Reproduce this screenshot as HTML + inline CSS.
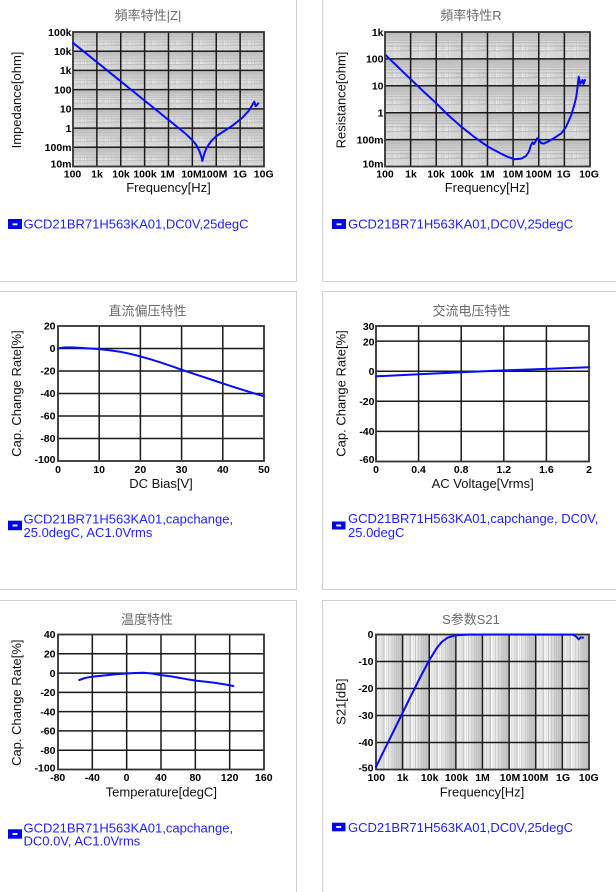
<!DOCTYPE html>
<html><head><meta charset="utf-8"><style>
html,body{margin:0;padding:0;background:#fff;}
body{width:616px;height:892px;overflow:hidden;}
svg{display:block;}
.t{font-family:"Liberation Sans","Noto Sans CJK SC",sans-serif;font-size:13px;fill:#6a6a6a;text-anchor:middle;}
.k{font-family:"Liberation Sans",Arial,sans-serif;font-size:10.5px;font-weight:bold;fill:#000;}
.kx{text-anchor:middle;}
.ky{text-anchor:end;}
.a{font-family:"Liberation Sans",Arial,sans-serif;font-size:13px;fill:#111;text-anchor:middle;}
.lg{font-family:"Liberation Sans",Arial,sans-serif;font-size:13px;fill:#1f1fff;}
.mj{stroke:#1a1a1a;stroke-width:1.5;fill:none;}
.fr{stroke:#333;stroke-width:1.8;fill:none;}
.cv{stroke:#0a0aff;stroke-width:2;fill:none;stroke-linejoin:round;stroke-linecap:round;}
.pb{stroke:#cfcfcf;stroke-width:1;fill:none;}
</style></head><body>
<svg width="616" height="892" viewBox="0 0 616 892" xmlns="http://www.w3.org/2000/svg">
<defs>
<g id="vd">
<g fill="#d6d6d6">
<rect x="0.0592" y="0" width="0.04" height="1000"/><rect x="0.1261" y="0" width="0.04" height="1000"/><rect x="0.1841" y="0" width="0.04" height="1000"/><rect x="0.2353" y="0" width="0.04" height="1000"/><rect x="0.3779" y="0" width="0.04" height="1000"/><rect x="0.5241" y="0" width="0.04" height="1000"/><rect x="0.6332" y="0" width="0.04" height="1000"/><rect x="0.7204" y="0" width="0.04" height="1000"/><rect x="0.7929" y="0" width="0.04" height="1000"/><rect x="0.8551" y="0" width="0.04" height="1000"/><rect x="0.9094" y="0" width="0.04" height="1000"/><rect x="0.9577" y="0" width="0.04" height="1000"/>
</g>
<g fill="#bcbcbc">
<rect x="0.2810" y="0" width="0.04" height="1000"/><rect x="0.4571" y="0" width="0.04" height="1000"/><rect x="0.5821" y="0" width="0.04" height="1000"/><rect x="0.6790" y="0" width="0.04" height="1000"/><rect x="0.7582" y="0" width="0.04" height="1000"/><rect x="0.8251" y="0" width="0.04" height="1000"/><rect x="0.8831" y="0" width="0.04" height="1000"/><rect x="0.9342" y="0" width="0.04" height="1000"/>
</g>
</g>
<g id="hd">
<g fill="#d6d6d6">
<rect x="0" y="0.8958" width="1000" height="0.05"/><rect x="0" y="0.8289" width="1000" height="0.05"/><rect x="0" y="0.7709" width="1000" height="0.05"/><rect x="0" y="0.7197" width="1000" height="0.05"/><rect x="0" y="0.5771" width="1000" height="0.05"/><rect x="0" y="0.4309" width="1000" height="0.05"/><rect x="0" y="0.3218" width="1000" height="0.05"/><rect x="0" y="0.2346" width="1000" height="0.05"/><rect x="0" y="0.1621" width="1000" height="0.05"/><rect x="0" y="0.0999" width="1000" height="0.05"/><rect x="0" y="0.0456" width="1000" height="0.05"/><rect x="0" y="0" width="1000" height="0.0473"/>
</g>
<g fill="#bcbcbc">
<rect x="0" y="0.6740" width="1000" height="0.05"/><rect x="0" y="0.4979" width="1000" height="0.05"/><rect x="0" y="0.3729" width="1000" height="0.05"/><rect x="0" y="0.2760" width="1000" height="0.05"/><rect x="0" y="0.1968" width="1000" height="0.05"/><rect x="0" y="0.1299" width="1000" height="0.05"/><rect x="0" y="0.0719" width="1000" height="0.05"/><rect x="0" y="0.0208" width="1000" height="0.05"/>
</g>
</g>
<pattern id="v1" patternUnits="userSpaceOnUse" width="1" height="1000" patternTransform="translate(73 0) scale(23.875 1)"><use href="#vd"/></pattern>
<pattern id="h1" patternUnits="userSpaceOnUse" width="1000" height="1" patternTransform="translate(0 32) scale(1 19.214)"><use href="#hd"/></pattern>
<pattern id="v2" patternUnits="userSpaceOnUse" width="1" height="1000" patternTransform="translate(385 0) scale(25.625 1)"><use href="#vd"/></pattern>
<pattern id="h2" patternUnits="userSpaceOnUse" width="1000" height="1" patternTransform="translate(0 32) scale(1 26.9)"><use href="#hd"/></pattern>
<pattern id="v6" patternUnits="userSpaceOnUse" width="1" height="1000" patternTransform="translate(376 0) scale(26.625 1)"><use href="#vd"/></pattern>
</defs>

<!-- panel borders -->
<rect class="pb" x="-5.5" y="-10.5" width="302" height="292"/>
<rect class="pb" x="322.5" y="-10.5" width="310" height="292"/>
<rect class="pb" x="-5.5" y="291.5" width="302" height="298"/>
<rect class="pb" x="322.5" y="291.5" width="310" height="298"/>
<rect class="pb" x="-5.5" y="600.5" width="302" height="310"/>
<rect class="pb" x="322.5" y="600.5" width="310" height="310"/>

<!-- ===== Chart 1 |Z| ===== -->
<text class="t" x="148" y="20">頻率特性|Z|</text>
<rect x="73" y="32" width="191" height="134.5" fill="#fff"/>
<rect x="73" y="32" width="191" height="134.5" fill="url(#v1)"/>
<rect x="73" y="32" width="191" height="134.5" fill="url(#h1)"/>
<g class="mj">
<path d="M96.875 32V166.5M120.75 32V166.5M144.625 32V166.5M168.5 32V166.5M192.375 32V166.5M216.25 32V166.5M240.125 32V166.5"/>
<path d="M73 51.21H264M73 70.43H264M73 89.64H264M73 108.86H264M73 128.07H264M73 147.29H264"/>
</g>
<rect class="fr" x="73" y="32" width="191" height="134.5"/>
<polyline class="cv" points="73,42.8 185,133.2 192.4,140.1 196.6,145.4 199.6,151.6 201.3,156.5 202.3,160.9 203.3,157.5 204.4,153.3 206.7,147.6 210.9,141.5 216.3,136.1 225,130.5 233.3,125 242,118 249,110.5 254.3,101.7 255.7,106.3 258.3,103.3"/>
<g class="k kx">
<text x="72.5" y="177.7">100</text><text x="97" y="177.7">1k</text><text x="121" y="177.7">10k</text><text x="145" y="177.7">100k</text><text x="167.5" y="177.7">1M</text><text x="191.5" y="177.7">10M</text><text x="214.2" y="177.7">100M</text><text x="240" y="177.7">1G</text><text x="263.7" y="177.7">10G</text>
</g>
<g class="k ky">
<text x="71.5" y="35.9">100k</text><text x="71.5" y="54.9">10k</text><text x="71.5" y="74.1">1k</text><text x="71.5" y="93.3">100</text><text x="71.5" y="112.6">10</text><text x="71.5" y="131.8">1</text><text x="71.5" y="151">100m</text><text x="71.5" y="167.7">10m</text>
</g>
<text class="a" x="168.5" y="192">Frequency[Hz]</text>
<text class="a" transform="translate(21 100) rotate(-90)">Impedance[ohm]</text>
<rect x="8" y="219" width="14" height="10" fill="#0000ee"/><rect x="12.5" y="223.3" width="5" height="2" fill="#e8e8ff"/>
<text class="lg" x="23.5" y="228.7">GCD21BR71H563KA01,DC0V,25degC</text>

<!-- ===== Chart 2 R ===== -->
<text class="t" x="471" y="20">頻率特性R</text>
<rect x="385" y="32" width="205" height="134.5" fill="#fff"/>
<rect x="385" y="32" width="205" height="134.5" fill="url(#v2)"/>
<rect x="385" y="32" width="205" height="134.5" fill="url(#h2)"/>
<g class="mj">
<path d="M410.625 32V166.5M436.25 32V166.5M461.875 32V166.5M487.5 32V166.5M513.125 32V166.5M538.75 32V166.5M564.375 32V166.5"/>
<path d="M385 58.9H590M385 85.8H590M385 112.7H590M385 139.6H590"/>
</g>
<rect class="fr" x="385" y="32" width="205" height="134.5"/>
<polyline class="cv" points="385.5,55 397,66 409.7,78.3 423,91 436.3,103.3 448,115 461.3,126.7 475,137.5 488,146.7 501.3,153.8 508,157 514.7,159.3 521.3,158.6 526,156 529,151.5 531,145 532.5,142.5 534,144 535.5,141.5 537.3,138.3 539,140 541.3,143.3 544,143.5 548,141.7 555,137.5 561.3,133.3 566,127 571.3,115 574,106 576.3,96.7 577.8,85 578.7,76.7 580.3,84 581.5,82 582.5,80 583.5,84 585,80"/>
<g class="k kx">
<text x="385" y="177.7">100</text><text x="411" y="177.7">1k</text><text x="436" y="177.7">10k</text><text x="462" y="177.7">100k</text><text x="487.3" y="177.7">1M</text><text x="513" y="177.7">10M</text><text x="538.7" y="177.7">100M</text><text x="563.8" y="177.7">1G</text><text x="589" y="177.7">10G</text>
</g>
<g class="k ky">
<text x="383.5" y="35.9">1k</text><text x="383.5" y="62.6">100</text><text x="383.5" y="89.5">10</text><text x="383.5" y="116.4">1</text><text x="383.5" y="143.3">100m</text><text x="383.5" y="167.7">10m</text>
</g>
<text class="a" x="487" y="192">Frequency[Hz]</text>
<text class="a" transform="translate(345.3 100) rotate(-90)">Resistance[ohm]</text>
<rect x="332" y="219" width="14" height="10" fill="#0000ee"/><rect x="336.5" y="223.3" width="5" height="2" fill="#e8e8ff"/>
<text class="lg" x="348" y="228.7">GCD21BR71H563KA01,DC0V,25degC</text>

<!-- ===== Chart 3 DC Bias ===== -->
<text class="t" x="147.5" y="315.5">直流偏压特性</text>
<rect x="58" y="326" width="206" height="135" fill="#fff"/>
<g class="mj">
<path d="M99.2 326V461M140.4 326V461M181.6 326V461M222.8 326V461"/>
<path d="M58 348.5H264M58 371H264M58 393.5H264M58 416H264M58 438.5H264"/>
</g>
<rect class="fr" x="58" y="326" width="206" height="135"/>
<polyline class="cv" points="58,348.5 61,347.9 64.2,347.5 70.4,347.4 78.6,347.8 88,348.4 99.2,349.1 109.5,350.2 119.8,351.7 130,353.8 140.4,356.4 151,359.4 161,362.6 171.3,366.1 181.6,369.7 191.9,373.2 202.2,376.6 212.5,380 222.8,383.4 233.1,386.8 243.4,390.1 253.7,393.2 264,396.3"/>
<g class="k kx">
<text x="58" y="473">0</text><text x="99.2" y="473">10</text><text x="140.4" y="473">20</text><text x="181.6" y="473">30</text><text x="222.8" y="473">40</text><text x="264" y="473">50</text>
</g>
<g class="k ky">
<text x="55.5" y="329.7">20</text><text x="55.5" y="352.2">0</text><text x="55.5" y="374.7">-20</text><text x="55.5" y="397.2">-40</text><text x="55.5" y="419.7">-60</text><text x="55.5" y="442.2">-80</text><text x="55.5" y="463">-100</text>
</g>
<text class="a" x="161" y="488">DC Bias[V]</text>
<text class="a" transform="translate(21 393.5) rotate(-90)">Cap. Change Rate[%]</text>
<rect x="8" y="520.7" width="14" height="9.5" fill="#0000ee"/><rect x="12.5" y="524.5" width="5" height="2" fill="#e8e8ff"/>
<text class="lg" x="23.5" y="523.4">GCD21BR71H563KA01,capchange,</text>
<text class="lg" x="23.5" y="537">25.0degC, AC1.0Vrms</text>

<!-- ===== Chart 4 AC Voltage ===== -->
<text class="t" x="471.5" y="315.5">交流电压特性</text>
<rect x="376" y="326" width="213" height="135.5" fill="#fff"/>
<g class="mj">
<path d="M418.6 326V461.5M461.2 326V461.5M503.8 326V461.5M546.4 326V461.5"/>
<path d="M376 341.1H589M376 371.2H589M376 401.3H589M376 431.4H589"/>
</g>
<rect class="fr" x="376" y="326" width="213" height="135.5"/>
<polyline class="cv" points="376,376.3 418.7,374.3 461.3,372.2 504,370.4 546.7,368.9 589,367.3"/>
<g class="k kx">
<text x="376" y="473">0</text><text x="418.6" y="473">0.4</text><text x="461.2" y="473">0.8</text><text x="503.8" y="473">1.2</text><text x="546.4" y="473">1.6</text><text x="589" y="473">2</text>
</g>
<g class="k ky">
<text x="374.5" y="330">30</text><text x="374.5" y="345.5">20</text><text x="374.5" y="374.9">0</text><text x="374.5" y="405">-20</text><text x="374.5" y="435.1">-40</text><text x="374.5" y="463">-60</text>
</g>
<text class="a" x="482.7" y="488">AC Voltage[Vrms]</text>
<text class="a" transform="translate(345.3 393.5) rotate(-90)">Cap. Change Rate[%]</text>
<rect x="332" y="521.5" width="13.5" height="8" fill="#0000ee"/><rect x="336.2" y="524.5" width="5" height="2" fill="#e8e8ff"/>
<text class="lg" x="348" y="523">GCD21BR71H563KA01,capchange, DC0V,</text>
<text class="lg" x="348" y="537">25.0degC</text>

<!-- ===== Chart 5 Temperature ===== -->
<text class="t" x="147" y="624">温度特性</text>
<rect x="58" y="634.5" width="206" height="135" fill="#fff"/>
<g class="mj">
<path d="M92.33 634.5V769.5M126.67 634.5V769.5M161 634.5V769.5M195.33 634.5V769.5M229.67 634.5V769.5"/>
<path d="M58 653.79H264M58 673.07H264M58 692.36H264M58 711.64H264M58 730.93H264M58 750.21H264"/>
</g>
<rect class="fr" x="58" y="634.5" width="206" height="135"/>
<polyline class="cv" points="79.3,680 85,678 91.7,676.7 105.2,675.4 116,674.3 126.7,673.5 135,673 143.3,672.7 152,673.5 160,675 170,676.2 178.1,677.6 187,679.2 196.7,680.7 205,681.6 213.5,682.6 224,684.2 233.3,686"/>
<g class="k kx">
<text x="57.7" y="781">-80</text><text x="92.3" y="781">-40</text><text x="126.5" y="781">0</text><text x="161" y="781">40</text><text x="195.3" y="781">80</text><text x="229.7" y="781">120</text><text x="263.8" y="781">160</text>
</g>
<g class="k ky">
<text x="55.5" y="638.2">40</text><text x="55.5" y="657.5">20</text><text x="55.5" y="676.8">0</text><text x="55.5" y="696.1">-20</text><text x="55.5" y="715.3">-40</text><text x="55.5" y="734.6">-60</text><text x="55.5" y="753.9">-80</text><text x="55.5" y="771.4">-100</text>
</g>
<text class="a" x="161.3" y="796.5">Temperature[degC]</text>
<text class="a" transform="translate(21 702.7) rotate(-90)">Cap. Change Rate[%]</text>
<rect x="8" y="829.3" width="14" height="9.4" fill="#0000ee"/><rect x="12.5" y="833" width="5" height="2" fill="#e8e8ff"/>
<text class="lg" x="23.5" y="832.4">GCD21BR71H563KA01,capchange,</text>
<text class="lg" x="23.5" y="845.6">DC0.0V, AC1.0Vrms</text>

<!-- ===== Chart 6 S21 ===== -->
<text class="t" x="471" y="624">S参数S21</text>
<rect x="376" y="634.5" width="213" height="135" fill="#fff"/>
<rect x="376" y="634.5" width="213" height="135" fill="url(#v6)"/>
<g class="mj">
<path d="M402.625 634.5V769.5M429.25 634.5V769.5M455.875 634.5V769.5M482.5 634.5V769.5M509.125 634.5V769.5M535.75 634.5V769.5M562.375 634.5V769.5"/>
<path d="M376 661.5H589M376 688.5H589M376 715.5H589M376 742.5H589"/>
</g>
<rect class="fr" x="376" y="634.5" width="213" height="135"/>
<polyline class="cv" points="376,767 384,750.5 394.6,729 402.6,712.8 410.6,696.5 421.2,675.4 429.25,660.2 437.3,647.3 441.9,641.8 447.8,637.6 455.9,635.2 468.6,634.6 500,634.5 573,634.6 576.3,636.7 578.7,639.3 580.7,637.3 583,637.7"/>
<g class="k kx">
<text x="376.3" y="781">100</text><text x="402.7" y="781">1k</text><text x="429.7" y="781">10k</text><text x="456.5" y="781">100k</text><text x="482.5" y="781">1M</text><text x="510" y="781">10M</text><text x="535.2" y="781">100M</text><text x="563" y="781">1G</text><text x="588.8" y="781">10G</text>
</g>
<g class="k ky">
<text x="373.5" y="638.2">0</text><text x="373.5" y="665.2">-10</text><text x="373.5" y="692.2">-20</text><text x="373.5" y="719.2">-30</text><text x="373.5" y="746.2">-40</text><text x="373.5" y="771.4">-50</text>
</g>
<text class="a" x="482" y="796.5">Frequency[Hz]</text>
<text class="a" transform="translate(345.3 701.7) rotate(-90)">S21[dB]</text>
<rect x="332" y="822.7" width="13.5" height="8.6" fill="#0000ee"/><rect x="336.2" y="826" width="5" height="2" fill="#e8e8ff"/>
<text class="lg" x="348" y="832">GCD21BR71H563KA01,DC0V,25degC</text>
</svg>
</body></html>
